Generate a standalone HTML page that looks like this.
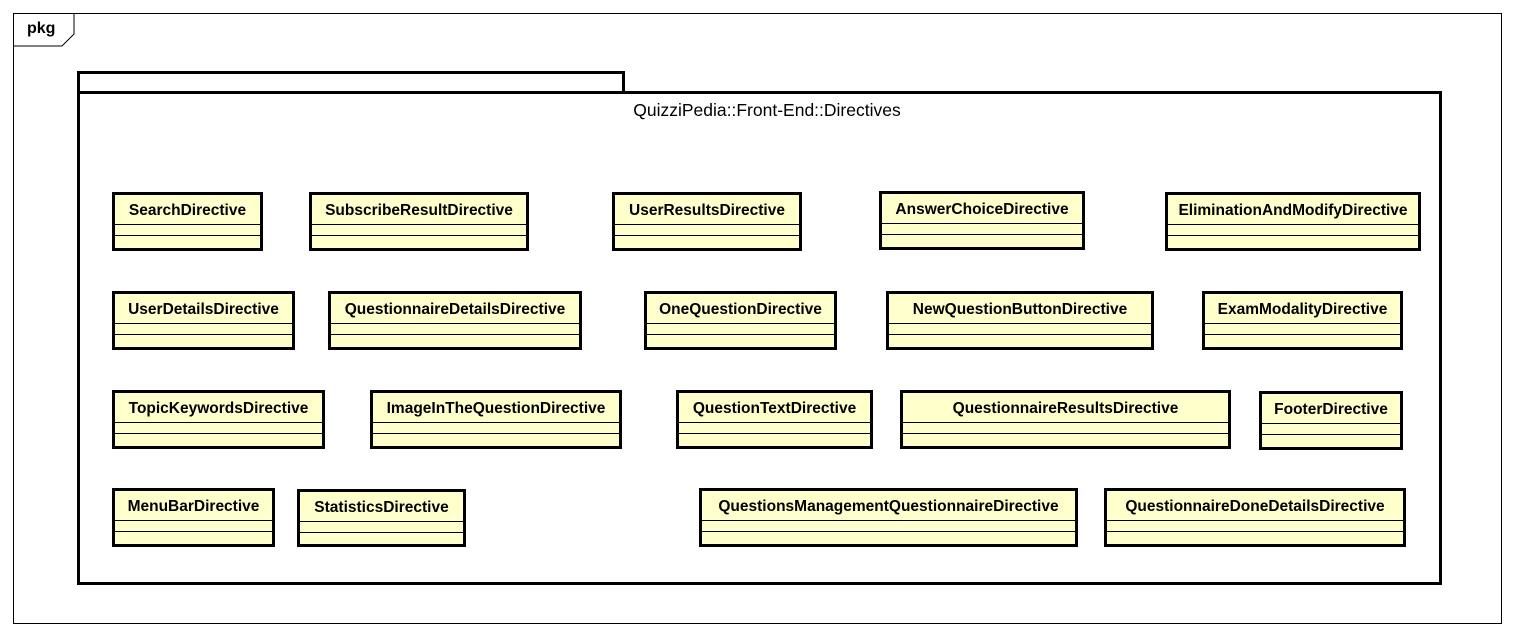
<!DOCTYPE html>
<html><head><style>
body{margin:0;width:1514px;height:637px;background:#fff;position:relative;overflow:hidden;font-family:"Liberation Sans",Arial,sans-serif}
.a{position:absolute;box-sizing:border-box}
.c{position:absolute;box-sizing:border-box;border:3px solid #000;background:#ffffcc}
.c .t{position:absolute;left:0;right:0;top:0;height:29px;text-align:center;font-weight:bold;font-size:15.5px;line-height:31px;border-bottom:1px solid #000;white-space:nowrap}
.c .m{position:absolute;left:0;right:0;top:40px;border-top:1px solid #000}
</style></head><body>
<div class="a" style="left:13px;top:13px;width:1489px;height:611px;border:1px solid #000"></div>
<svg class="a" style="left:13px;top:13px" width="70" height="40"><polyline points="0,33 49,33 61,21 61,0" fill="none" stroke="#000" stroke-width="1"/></svg>
<div class="a" style="left:27px;top:20px;font-size:16px;font-weight:bold">pkg</div>
<div class="a" style="left:77px;top:71px;width:548px;height:23px;border:3px solid #000"></div>
<div class="a" style="left:77px;top:91px;width:1365px;height:494px;border:3px solid #000;background:#fff"></div>
<div class="a" style="left:77px;top:100px;width:1380px;text-align:center;font-size:17.5px;white-space:nowrap">QuizziPedia::Front-End::Directives</div>

<div class="c" style="left:112px;top:192px;width:151px;height:59px"><div class="t">SearchDirective</div><div class="m"></div></div>
<div class="c" style="left:309px;top:192px;width:220px;height:59px"><div class="t">SubscribeResultDirective</div><div class="m"></div></div>
<div class="c" style="left:612px;top:192px;width:190px;height:59px"><div class="t">UserResultsDirective</div><div class="m"></div></div>
<div class="c" style="left:879px;top:191px;width:206px;height:59px"><div class="t">AnswerChoiceDirective</div><div class="m"></div></div>
<div class="c" style="left:1165px;top:192px;width:256px;height:59px"><div class="t">EliminationAndModifyDirective</div><div class="m"></div></div>

<div class="c" style="left:112px;top:291px;width:183px;height:59px"><div class="t">UserDetailsDirective</div><div class="m"></div></div>
<div class="c" style="left:328px;top:291px;width:254px;height:59px"><div class="t">QuestionnaireDetailsDirective</div><div class="m"></div></div>
<div class="c" style="left:644px;top:291px;width:193px;height:59px"><div class="t">OneQuestionDirective</div><div class="m"></div></div>
<div class="c" style="left:886px;top:291px;width:268px;height:59px"><div class="t">NewQuestionButtonDirective</div><div class="m"></div></div>
<div class="c" style="left:1202px;top:291px;width:201px;height:59px"><div class="t">ExamModalityDirective</div><div class="m"></div></div>

<div class="c" style="left:112px;top:390px;width:213px;height:59px"><div class="t">TopicKeywordsDirective</div><div class="m"></div></div>
<div class="c" style="left:370px;top:390px;width:252px;height:59px"><div class="t">ImageInTheQuestionDirective</div><div class="m"></div></div>
<div class="c" style="left:676px;top:390px;width:197px;height:59px"><div class="t">QuestionTextDirective</div><div class="m"></div></div>
<div class="c" style="left:900px;top:390px;width:331px;height:59px"><div class="t">QuestionnaireResultsDirective</div><div class="m"></div></div>
<div class="c" style="left:1259px;top:391px;width:144px;height:59px"><div class="t">FooterDirective</div><div class="m"></div></div>

<div class="c" style="left:112px;top:488px;width:163px;height:59px"><div class="t">MenuBarDirective</div><div class="m"></div></div>
<div class="c" style="left:297px;top:489px;width:169px;height:58px"><div class="t">StatisticsDirective</div><div class="m"></div></div>
<div class="c" style="left:699px;top:488px;width:379px;height:59px"><div class="t">QuestionsManagementQuestionnaireDirective</div><div class="m"></div></div>
<div class="c" style="left:1104px;top:488px;width:302px;height:59px"><div class="t">QuestionnaireDoneDetailsDirective</div><div class="m"></div></div>
</body></html>
